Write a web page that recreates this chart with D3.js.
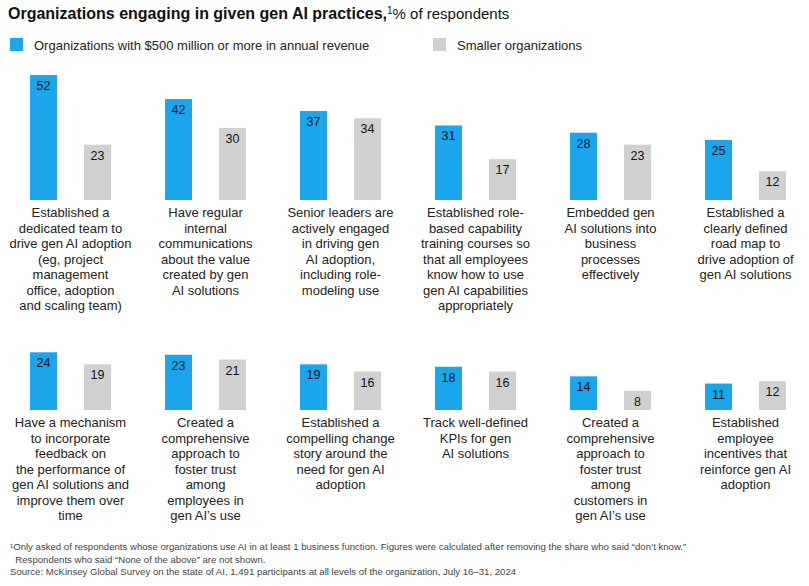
<!DOCTYPE html>
<html><head><meta charset="utf-8">
<script src="https://cdn.jsdelivr.net/npm/d3@7"></script>
<style>body{margin:0;background:#fff;font-family:"Liberation Sans",Arial,sans-serif;}</style>
</head><body><svg id="c" width="809" height="586"></svg>
<script>
const categories = [
 ["Established a","dedicated team to","drive gen AI adoption","(eg, project","management","office, adoption","and scaling team)"],
 ["Have regular","internal","communications","about the value","created by gen","AI solutions"],
 ["Senior leaders are","actively engaged","in driving gen","AI adoption,","including role-","modeling use"],
 ["Established role-","based capability","training courses so","that all employees","know how to use","gen AI capabilities","appropriately"],
 ["Embedded gen","AI solutions into","business","processes","effectively"],
 ["Established a","clearly defined","road map to","drive adoption of","gen AI solutions"],
 ["Have a mechanism","to incorporate","feedback on","the performance of","gen AI solutions and","improve them over","time"],
 ["Created a","comprehensive","approach to","foster trust","among","employees in","gen AI’s use"],
 ["Established a","compelling change","story around the","need for gen AI","adoption"],
 ["Track well-defined","KPIs for gen","AI solutions"],
 ["Created a","comprehensive","approach to","foster trust","among","customers in","gen AI’s use"],
 ["Established","employee","incentives that","reinforce gen AI","adoption"]
];
const large = [52,42,37,31,28,25,24,23,19,18,14,11];
const small = [23,30,34,17,23,12,19,21,16,16,8,12];
const seriesNames = ["Organizations with $500 million or more in annual revenue","Smaller organizations"];
const colors = ["#1ba6ec","#d0d0d0"];

const svg = d3.select("#c");
svg.append("text").attr("x",8).attr("y",19).attr("font-size",16).attr("font-weight","bold").attr("fill","#111")
  .text("Organizations engaging in given gen AI practices,").append("tspan").attr("font-weight","normal").attr("font-size",10).attr("dy",-5).text("1")
  .select(function(){return this.parentNode;}).append("tspan").attr("font-weight","normal").attr("font-size",15).attr("dy",5).text("% of respondents");

const lg = [[10,seriesNames[0]],[433,seriesNames[1]]];
lg.forEach((d,i)=>{
  svg.append("rect").attr("x",d[0]).attr("y",38).attr("width",13).attr("height",13).attr("fill",colors[i]);
  svg.append("text").attr("x",d[0]+24).attr("y",50).attr("font-size",13).attr("fill","#222").text(d[1]);
});

const colX = d3.scaleBand().domain(d3.range(6)).range([8,818]);
const y = d3.scaleLinear().domain([0,52]).range([0,125]);
const sub = d3.scaleBand().domain([0,1]).range([22,103]).paddingInner(0.5);
const baselines=[200,410];

categories.forEach((cat,i)=>{
  const row=Math.floor(i/6), col=i%6, base=baselines[row];
  const g=svg.append("g").attr("transform",`translate(${colX(col)},0)`);
  [large[i],small[i]].forEach((v,j)=>{
    const h=y(v);
    g.append("rect").attr("x",sub(j)).attr("y",base-h).attr("width",sub.bandwidth()).attr("height",h).attr("fill",colors[j]);
    g.append("text").attr("x",sub(j)+sub.bandwidth()/2).attr("y",base-h+15).attr("text-anchor","middle")
      .attr("font-size",12.5).attr("fill","#111").text(v);
  });
  const t=g.append("text").attr("text-anchor","middle").attr("font-size",13).attr("fill","#222");
  cat.forEach((l,k)=>t.append("tspan").attr("x",62.5).attr("y",base+17+k*15.5).text(l));
});

const notes=["¹Only asked of respondents whose organizations use AI in at least 1 business function. Figures were calculated after removing the share who said “don’t know.”",
 "  Respondents who said “None of the above” are not shown.",
 "Source: McKinsey Global Survey on the state of AI, 1,491 participants at all levels of the organization, July 16–31, 2024"];
notes.forEach((n,k)=>svg.append("text").attr("x",10).attr("y",550+k*12.5).attr("font-size",9.6).attr("fill","#444").attr("xml:space","preserve").text(n));
</script></body></html>
